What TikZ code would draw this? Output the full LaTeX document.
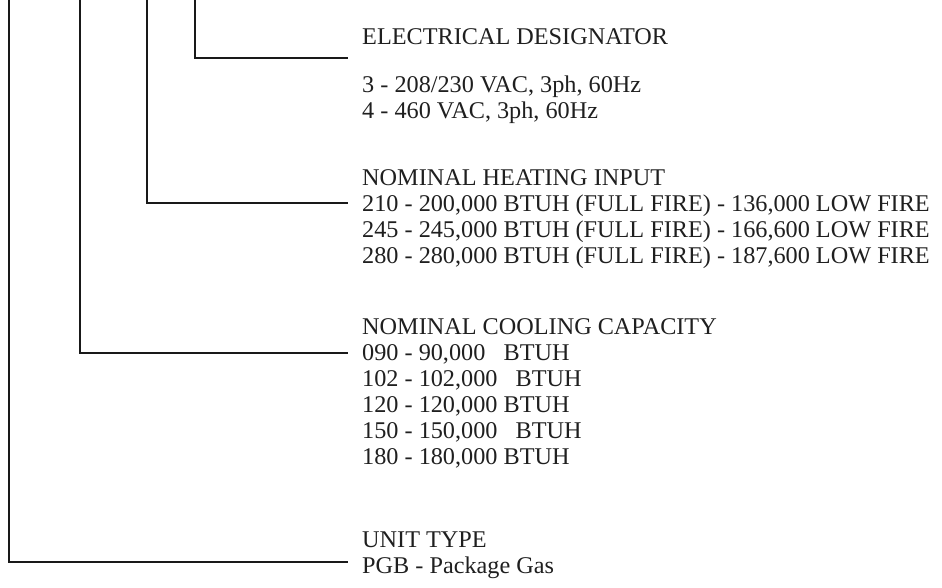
\documentclass[tikz,border=0pt]{standalone}
\usepackage{fontspec}
\setmainfont{Liberation Serif}[FakeStretch=1.01]
\begin{document}
\begin{tikzpicture}[x=1pt,y=-1pt,
  lbl/.style={anchor=base west,inner sep=0pt,font=\fontsize{24}{28}\selectfont,text=black!88},
  leader/.style={line width=2pt,draw=black!90}]
\useasboundingbox (0,0) rectangle (942,587);
% texts
\node[lbl] (e0) at (362,44) {ELECTRICAL DESIGNATOR};
\node[lbl] (e1) at (362,92) {3 - 208/230 VAC, 3ph, 60Hz};
\node[lbl] (e2) at (362,118) {4 - 460 VAC, 3ph, 60Hz};
\node[lbl] (h0) at (362,185) {NOMINAL HEATING INPUT};
\node[lbl] (h1) at (362,211) {210 - 200,000 BTUH (FULL FIRE) - 136,000 LOW FIRE};
\node[lbl] (h2) at (362,237) {245 - 245,000 BTUH (FULL FIRE) - 166,600 LOW FIRE};
\node[lbl] (h3) at (362,263) {280 - 280,000 BTUH (FULL FIRE) - 187,600 LOW FIRE};
\node[lbl] (c0) at (362,334) {NOMINAL COOLING CAPACITY};
\node[lbl] (c1) at (362,360) {090 - 90,000\ \ \ BTUH};
\node[lbl] (c2) at (362,386) {102 - 102,000\ \ \ BTUH};
\node[lbl] (c3) at (362,412) {120 - 120,000 BTUH};
\node[lbl] (c4) at (362,438) {150 - 150,000\ \ \ BTUH};
\node[lbl] (c5) at (362,464) {180 - 180,000 BTUH};
\node[lbl] (u0) at (362,547) {UNIT TYPE};
\node[lbl] (u1) at (362,573) {PGB - Package Gas};
% leader coordinates
\coordinate (tu) at (9,-2);
\coordinate (tc) at (80,-2);
\coordinate (th) at (147,-2);
\coordinate (te) at (195,-2);
\coordinate (eu) at (348,562);
\coordinate (ec) at (348,353);
\coordinate (eh) at (348,203);
\coordinate (ee) at (348,58);
\draw[leader] (tu) |- (eu);
\draw[leader] (tc) |- (ec);
\draw[leader] (th) |- (eh);
\draw[leader] (te) |- (ee);
\end{tikzpicture}
\end{document}
